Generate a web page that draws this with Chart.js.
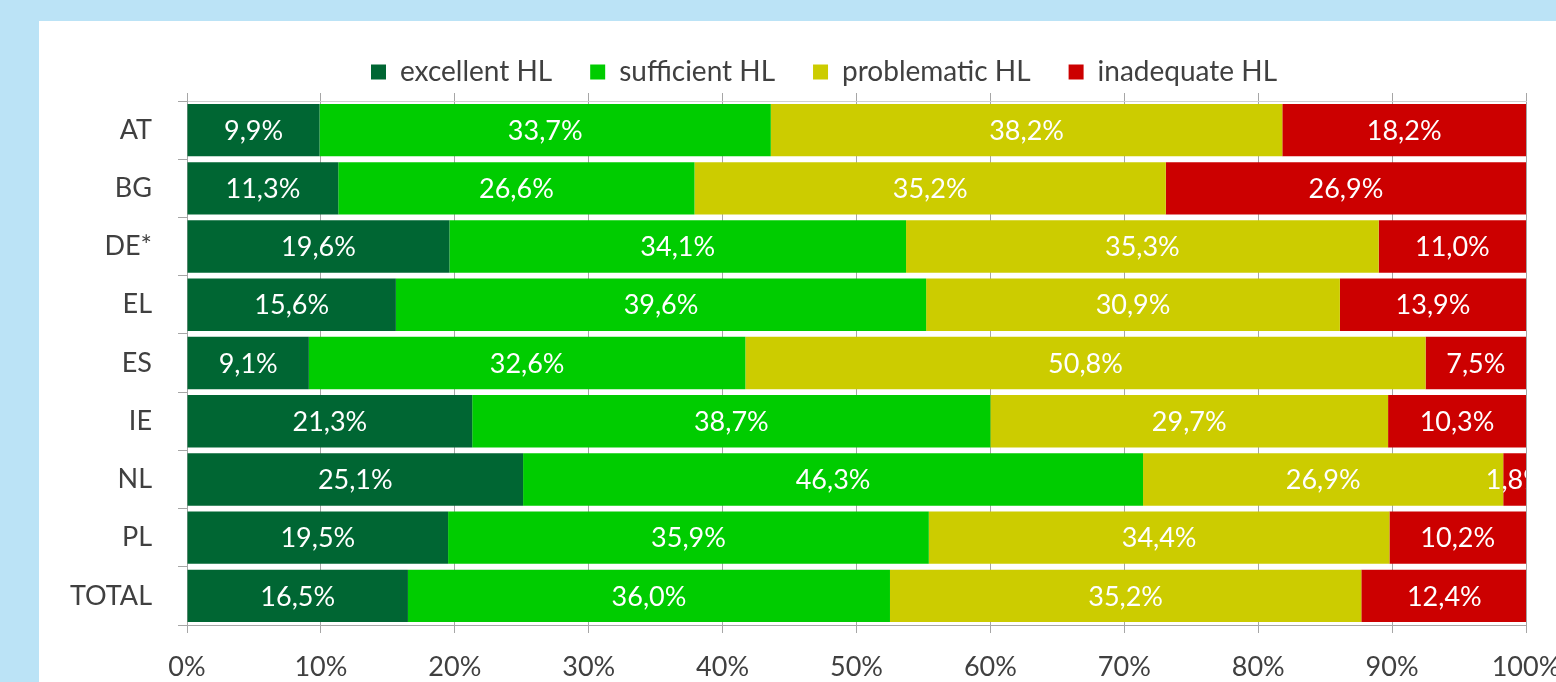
<!DOCTYPE html>
<html>
<head>
<meta charset="utf-8">
<script src="https://cdn.jsdelivr.net/npm/chart.js@4/dist/chart.umd.min.js"></script>
<style>
  html, body { margin: 0; padding: 0; }
  body { width: 1556px; height: 682px; background: #bbe3f6; position: relative; overflow: hidden; }
  .panel { position: absolute; left: 39px; top: 21px; right: 0; bottom: 0; background: #fff; }
  #chart { position: absolute; left: 0; top: 0; }
</style>
</head>
<body>
<div class="panel"></div>
<canvas id="chart" width="1556" height="682"></canvas>
<script>
const countries = ['AT', 'BG', 'DE*', 'EL', 'ES', 'IE', 'NL', 'PL', 'TOTAL'];
const seriesNames = ['excellent HL', 'sufficient HL', 'problematic HL', 'inadequate HL'];
const seriesColors = ['#006633', '#00cc00', '#cccc00', '#cc0000'];

const excellent   = [9.9, 11.3, 19.6, 15.6, 9.1, 21.3, 25.1, 19.5, 16.5];
const sufficient  = [33.7, 26.6, 34.1, 39.6, 32.6, 38.7, 46.3, 35.9, 36.0];
const problematic = [38.2, 35.2, 35.3, 30.9, 50.8, 29.7, 26.9, 34.4, 35.2];
const inadequate  = [18.2, 26.9, 11.0, 13.9, 7.5, 10.3, 1.8, 10.2, 12.4];

const xTicks = [0, 10, 20, 30, 40, 50, 60, 70, 80, 90, 100];

const FONT = 'Lato, "DejaVu Sans", sans-serif';
const textColor = '#404040';
const gridColor = '#a6a6a6';

// white values written in the middle of each segment, clipped to the plot
const segmentLabels = {
  id: 'segmentLabels',
  afterDatasetsDraw(chart) {
    const { ctx, chartArea } = chart;
    ctx.save();
    ctx.beginPath();
    ctx.rect(chartArea.left, chartArea.top, chartArea.right - chartArea.left, chartArea.bottom - chartArea.top);
    ctx.clip();
    ctx.font = '27px ' + FONT;
    ctx.fillStyle = '#ffffff';
    ctx.textAlign = 'center';
    ctx.textBaseline = 'middle';
    chart.data.datasets.forEach((ds, i) => {
      chart.getDatasetMeta(i).data.forEach((bar, j) => {
        const v = ds.data[j];
        const txt = v.toFixed(1).replace('.', ',') + '%';
        ctx.fillText(txt, (bar.x + bar.base) / 2, bar.y + 1);
      });
    });
    ctx.restore();
  }
};

// legend in the original sits a bit right of the canvas centre
const legendShift = {
  id: 'legendShift',
  afterLayout(chart) {
    chart.legend.left += 46;
    chart.legend.right += 46;
  }
};

const seriesData = [excellent, sufficient, problematic, inadequate];

new Chart(document.getElementById('chart'), {
  type: 'bar',
  data: {
    labels: countries,
    datasets: seriesNames.map((name, i) => ({
      label: name,
      data: seriesData[i],
      backgroundColor: seriesColors[i],
      borderWidth: 0,
      barPercentage: 0.9,
      categoryPercentage: 1.0
    }))
  },
  options: {
    indexAxis: 'y',
    responsive: false,
    animation: false,
    layout: { padding: { left: 0, top: 20, right: 0, bottom: 0 } },
    plugins: {
      tooltip: { enabled: false },
      legend: {
        position: 'top',
        labels: {
          font: { family: FONT, size: 28 },
          color: textColor,
          boxWidth: 15,
          boxHeight: 15,
          padding: 38
        }
      }
    },
    scales: {
      x: {
        stacked: true,
        min: 0,
        max: 100,
        afterBuildTicks: s => { s.ticks = xTicks.map(v => ({ value: v })); },
        afterFit: s => { s.height = 57; s.paddingRight = 30; },
        ticks: {
          color: textColor,
          font: { family: FONT, size: 27 },
          padding: 18,
          maxRotation: 0,
          callback: v => v + '%'
        },
        grid: { color: gridColor, tickLength: 8, drawTicks: true },
        border: { color: gridColor }
      },
      x2: {
        position: 'top',
        min: 0,
        max: 100,
        afterBuildTicks: s => { s.ticks = xTicks.map(v => ({ value: v })); },
        afterFit: s => { s.height = 5; },
        ticks: { display: false },
        grid: { color: gridColor, drawOnChartArea: false, tickLength: 8 },
        border: { color: '#d0d0d0' }
      },
      y: {
        stacked: true,
        afterFit: s => { s.width = 187; },
        ticks: {
          color: textColor,
          font: { family: FONT, size: 27 },
          padding: 26
        },
        grid: { offset: true, drawOnChartArea: false, color: gridColor, tickLength: 9 },
        border: { color: gridColor }
      }
    }
  },
  plugins: [segmentLabels, legendShift]
});
</script>
</body>
</html>
